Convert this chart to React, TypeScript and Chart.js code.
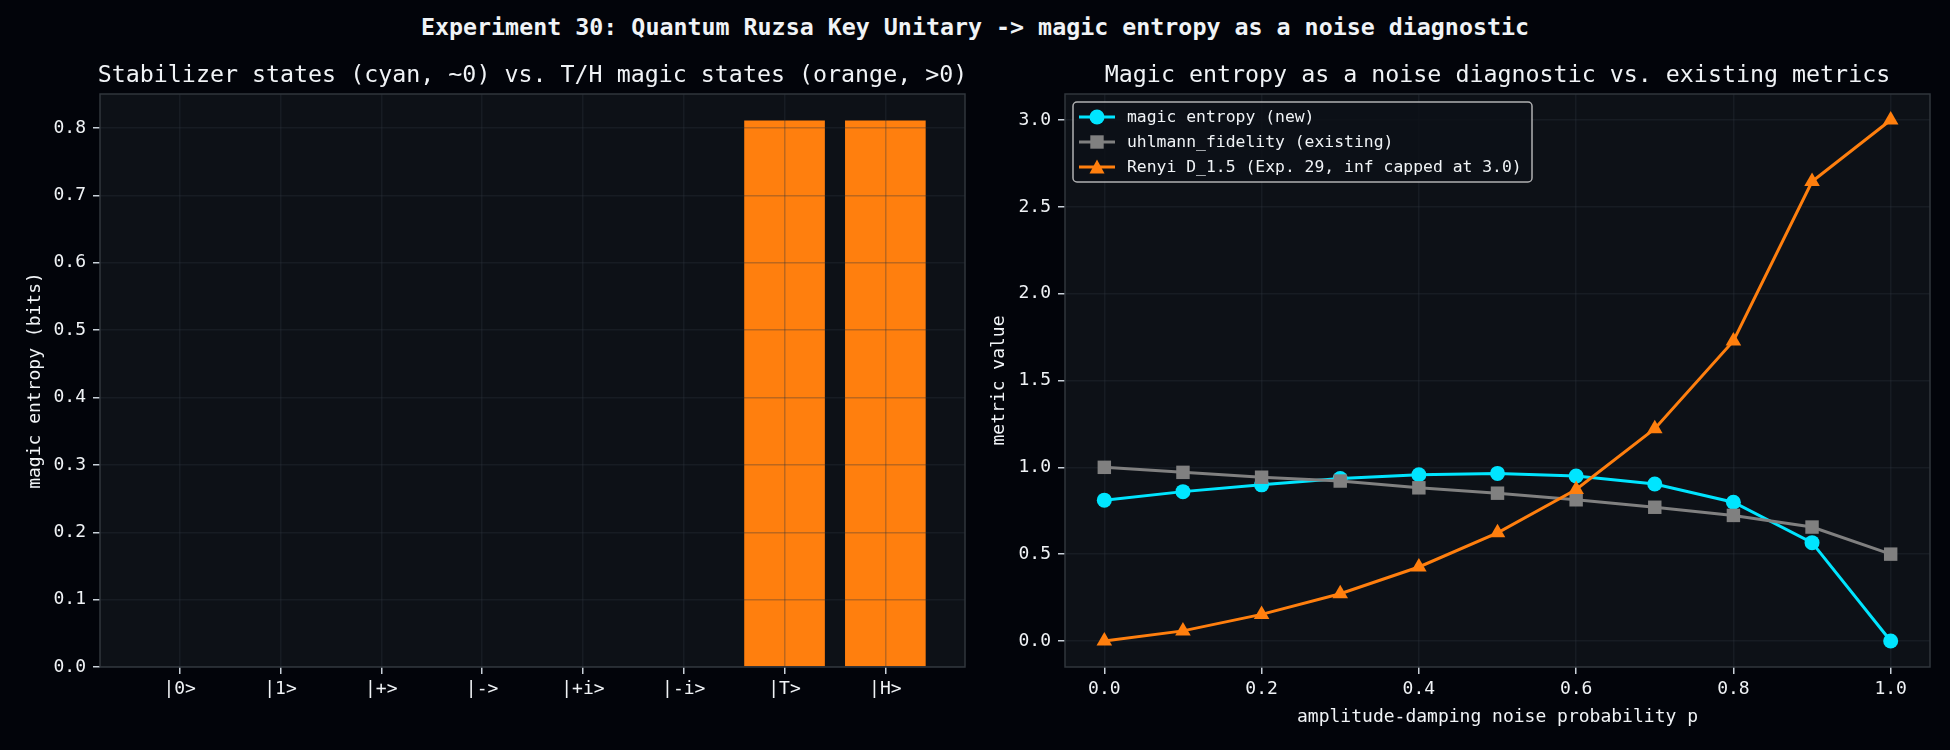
import { useEffect, useRef } from 'react';
import { Chart, registerables } from 'chart.js';

Chart.register(...registerables);

// ---- data ----
const stateLabels = ['|0>', '|1>', '|+>', '|->', '|+i>', '|-i>', '|T>', '|H>'];
const stateEntropy = [0, 0, 0, 0, 0, 0, 0.811, 0.811];
const stateIsMagic = [false, false, false, false, false, false, true, true];
const stateYTicks = [0, 0.1, 0.2, 0.3, 0.4, 0.5, 0.6, 0.7, 0.8];

const noiseP = [0, 0.1, 0.2, 0.3, 0.4, 0.5, 0.6, 0.7, 0.8, 0.9, 1.0];
const magicEntropy = [0.811, 0.86, 0.899, 0.935, 0.957, 0.965, 0.95, 0.904, 0.799, 0.566, 0.0];
const uhlmannFidelity = [1.0, 0.971, 0.943, 0.921, 0.882, 0.851, 0.813, 0.77, 0.723, 0.656, 0.5];
const renyiD15 = [0.0, 0.058, 0.153, 0.272, 0.426, 0.623, 0.872, 1.222, 1.728, 2.646, 3.0];
const noiseXTicks = [0, 0.2, 0.4, 0.6, 0.8, 1.0];
const metricYTicks = [0, 0.5, 1.0, 1.5, 2.0, 2.5, 3.0];

// ---- styling ----
const FONT = "'DejaVu Sans Mono', monospace";
const FIG_BG = '#02040a';
const AX_BG = '#0d1117';
const SPINE = '#30363d';
const GRID = 'rgba(48, 54, 61, 0.32)';
const TEXT = '#f0f3f6';
const TICK = '#c9d1d9';
const CYAN = '#00e5ff';
const ORANGE = '#ff7f0e';
const GRAY = '#808080';

// axes background, four spines and a title centred over the plot area
const axesFrame = {
  id: 'axesFrame',
  beforeDraw(chart: any) {
    const { ctx, chartArea: a } = chart;
    ctx.save();
    ctx.fillStyle = AX_BG;
    ctx.fillRect(a.left, a.top, a.right - a.left, a.bottom - a.top);
    ctx.restore();
  },
  afterDraw(chart: any, _args: any, opts: any) {
    const { ctx, chartArea: a } = chart;
    ctx.save();
    ctx.strokeStyle = SPINE;
    ctx.lineWidth = 1.5;
    ctx.strokeRect(a.left, a.top, a.right - a.left, a.bottom - a.top);
    if (opts && opts.title) {
      ctx.fillStyle = TEXT;
      ctx.font = `23.3px ${FONT}`;
      ctx.textAlign = 'center';
      ctx.textBaseline = 'alphabetic';
      ctx.fillText(opts.title, (a.left + a.right) / 2, 82);
    }
    ctx.restore();
  },
};

function drawMarker(ctx: CanvasRenderingContext2D, style: string, x: number, y: number, color: string) {
  ctx.fillStyle = color;
  ctx.beginPath();
  if (style === 'circle') {
    ctx.arc(x, y, 7.5, 0, Math.PI * 2);
  } else if (style === 'rect') {
    ctx.rect(x - 6.7, y - 6.7, 13.4, 13.4);
  } else {
    ctx.moveTo(x, y - 7.5);
    ctx.lineTo(x + 7.5, y + 6.5);
    ctx.lineTo(x - 7.5, y + 6.5);
    ctx.closePath();
  }
  ctx.fill();
}

// matplotlib-like legend box with line + marker handles
const lineLegend = {
  id: 'lineLegend',
  afterDraw(chart: any) {
    const { ctx, chartArea: a } = chart;
    const x0 = a.left + 8;
    const y0 = a.top + 8;
    const w = 459;
    const h = 80;
    ctx.save();
    ctx.beginPath();
    ctx.roundRect(x0, y0, w, h, 4);
    ctx.fillStyle = 'rgba(13, 17, 23, 0.85)';
    ctx.fill();
    ctx.strokeStyle = 'rgba(204, 204, 204, 0.85)';
    ctx.lineWidth = 1.5;
    ctx.stroke();
    ctx.font = `16.4px ${FONT}`;
    ctx.textBaseline = 'middle';
    ctx.textAlign = 'left';
    chart.data.datasets.forEach((ds: any, i: number) => {
      const y = y0 + 15 + i * 25;
      ctx.strokeStyle = ds.borderColor;
      ctx.lineWidth = 3;
      ctx.beginPath();
      ctx.moveTo(x0 + 6, y);
      ctx.lineTo(x0 + 42, y);
      ctx.stroke();
      drawMarker(ctx, ds.pointStyle, x0 + 24, y, ds.borderColor);
      ctx.fillStyle = TEXT;
      ctx.fillText(ds.label, x0 + 54, y + 1);
    });
    ctx.restore();
  },
};

const tickFont = { size: 18, family: FONT };

export default function App() {
  const leftRef = useRef<HTMLCanvasElement>(null);
  const rightRef = useRef<HTMLCanvasElement>(null);

  useEffect(() => {
    if (!leftRef.current || !rightRef.current) return;

    const left = new Chart(leftRef.current, {
      type: 'bar',
      data: {
        datasets: [
          {
            label: 'magic entropy',
            data: stateEntropy.map((v, i) => ({ x: i, y: v })),
            backgroundColor: stateIsMagic.map((m) => (m ? ORANGE : CYAN)),
            borderWidth: 0,
            barPercentage: 0.8,
            categoryPercentage: 1,
          },
        ],
      },
      options: {
        responsive: false,
        animation: false,
        devicePixelRatio: 1,
        layout: { padding: { top: 94, left: 0, right: 10, bottom: 0 } },
        plugins: {
          legend: { display: false },
          tooltip: { enabled: false },
          axesFrame: { title: 'Stabilizer states (cyan, ~0) vs. T/H magic states (orange, >0)' },
        } as any,
        scales: {
          x: {
            type: 'linear',
            min: -0.79,
            max: 7.79,
            offset: false,
            afterBuildTicks: (s: any) => {
              s.ticks = stateLabels.map((_, i) => ({ value: i }));
            },
            afterFit: (s: any) => {
              s.height = 83;
            },
            ticks: {
              color: TEXT,
              font: tickFont,
              padding: 5,
              autoSkip: false,
              maxRotation: 0,
              callback: (v: any) => stateLabels[v],
            },
            grid: { color: GRID, lineWidth: 1.5, z: 1, offset: false, tickColor: TICK, tickLength: 7, tickWidth: 1.5 },
            border: { display: false },
          },
          y: {
            min: 0,
            max: 0.8505,
            afterBuildTicks: (s: any) => {
              s.ticks = stateYTicks.map((v) => ({ value: v }));
            },
            afterFit: (s: any) => {
              s.width = 100;
            },
            ticks: { color: TEXT, font: tickFont, padding: 7, callback: (v: any) => Number(v).toFixed(1) },
            grid: { color: GRID, lineWidth: 1.5, z: 1, tickColor: TICK, tickLength: 7, tickWidth: 1.5 },
            border: { display: false },
            title: {
              display: true,
              text: 'magic entropy (bits)',
              color: TEXT,
              font: { size: 18, family: FONT },
              padding: { top: 25, bottom: 0 },
            },
          },
        } as any,
      },
      plugins: [axesFrame],
    });

    const right = new Chart(rightRef.current, {
      type: 'line',
      data: {
        datasets: [
          {
            label: 'magic entropy (new)',
            data: noiseP.map((p, i) => ({ x: p, y: magicEntropy[i] })),
            borderColor: CYAN,
            backgroundColor: CYAN,
            pointBackgroundColor: CYAN,
            pointStyle: 'circle',
            pointRadius: 7.5,
            pointBorderWidth: 0,
            borderWidth: 3,
            order: 2,
          },
          {
            label: 'uhlmann_fidelity (existing)',
            data: noiseP.map((p, i) => ({ x: p, y: uhlmannFidelity[i] })),
            borderColor: GRAY,
            backgroundColor: GRAY,
            pointBackgroundColor: GRAY,
            pointStyle: 'rect',
            pointRadius: 9.5,
            pointBorderWidth: 0,
            borderWidth: 3,
            order: 1,
          },
          {
            label: 'Renyi D_1.5 (Exp. 29, inf capped at 3.0)',
            data: noiseP.map((p, i) => ({ x: p, y: renyiD15[i] })),
            borderColor: ORANGE,
            backgroundColor: ORANGE,
            pointBackgroundColor: ORANGE,
            pointStyle: 'triangle',
            pointRadius: 9,
            pointBorderWidth: 0,
            borderWidth: 3,
            order: 0,
          },
        ],
      },
      options: {
        responsive: false,
        animation: false,
        devicePixelRatio: 1,
        layout: { padding: { top: 94, left: 0, right: 20, bottom: 0 } },
        elements: { line: { tension: 0 } },
        plugins: {
          legend: { display: false },
          tooltip: { enabled: false },
          axesFrame: { title: 'Magic entropy as a noise diagnostic vs. existing metrics' },
        } as any,
        scales: {
          x: {
            type: 'linear',
            min: -0.05,
            max: 1.05,
            afterBuildTicks: (s: any) => {
              s.ticks = noiseXTicks.map((v) => ({ value: v }));
            },
            afterFit: (s: any) => {
              s.height = 83;
            },
            ticks: { color: TEXT, font: tickFont, padding: 5, maxRotation: 0, callback: (v: any) => Number(v).toFixed(1) },
            grid: { color: GRID, lineWidth: 1.5, tickColor: TICK, tickLength: 7, tickWidth: 1.5 },
            border: { display: false },
            title: {
              display: true,
              text: 'amplitude-damping noise probability p',
              color: TEXT,
              font: { size: 18, family: FONT },
              padding: { top: 0, bottom: 22 },
            },
          },
          y: {
            min: -0.15,
            max: 3.15,
            afterBuildTicks: (s: any) => {
              s.ticks = metricYTicks.map((v) => ({ value: v }));
            },
            afterFit: (s: any) => {
              s.width = 90;
            },
            ticks: { color: TEXT, font: tickFont, padding: 7, callback: (v: any) => Number(v).toFixed(1) },
            grid: { color: GRID, lineWidth: 1.5, tickColor: TICK, tickLength: 7, tickWidth: 1.5 },
            border: { display: false },
            title: {
              display: true,
              text: 'metric value',
              color: TEXT,
              font: { size: 18, family: FONT },
              padding: { top: 14, bottom: 0 },
            },
          },
        } as any,
      },
      plugins: [axesFrame, lineLegend],
    });

    return () => {
      left.destroy();
      right.destroy();
    };
  }, []);

  return (
    <div
      style={{
        position: 'absolute',
        left: 0,
        top: 0,
        width: 1950,
        height: 750,
        background: FIG_BG,
        overflow: 'hidden',
      }}
    >
      <div
        style={{
          position: 'absolute',
          left: 0,
          top: 14.5,
          width: 1950,
          textAlign: 'center',
          fontFamily: FONT,
          fontWeight: 'bold',
          fontSize: 23.3,
          lineHeight: '23px',
          color: TEXT,
          whiteSpace: 'nowrap',
        }}
      >
        {'Experiment 30: Quantum Ruzsa Key Unitary -> magic entropy as a noise diagnostic'}
      </div>
      <canvas ref={leftRef} width={975} height={750} style={{ position: 'absolute', left: 0, top: 0 }} />
      <canvas ref={rightRef} width={975} height={750} style={{ position: 'absolute', left: 975, top: 0 }} />
    </div>
  );
}
